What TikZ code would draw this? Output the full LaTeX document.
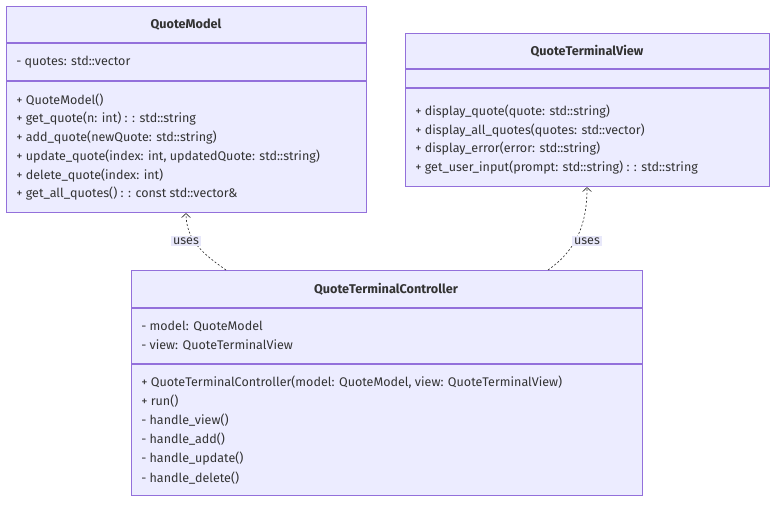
\documentclass[tikz,border=0pt]{standalone}
\usepackage{fontspec}
\setmainfont{Fira Sans}
\usetikzlibrary{arrows.meta}
\definecolor{boxfill}{HTML}{ECECFF}
\definecolor{boxline}{HTML}{9370DB}
\definecolor{ink}{HTML}{333333}
\definecolor{labelbg}{HTML}{E8E8FA}

\begin{document}
\begin{tikzpicture}[x=0.75pt, y=-0.75pt,
    every node/.style={text=ink, font=\fontsize{9.4}{11}\selectfont},
    classbox/.style={draw=boxline, fill=boxfill, line width=0.8pt, inner sep=0pt, anchor=north west},
    classname/.style={font=\fontsize{9.5}{11}\selectfont\bfseries},
    member/.style={anchor=west, inner sep=0pt},
    sep/.style={draw=boxline, line width=0.8pt},
    dep/.style={draw=ink, dash pattern=on 1.5pt off 1.5pt, line width=0.5pt, -{Straight Barb[length=3pt,width=6.5pt]}},
    tag/.style={fill=labelbg, inner sep=1.2pt}]

    \useasboundingbox (0,0) rectangle (784,507);

    % Boxes
    \node[classbox, minimum width=270pt, minimum height=154.5pt] (model) at (6,6) {};
    \node[classbox, minimum width=273pt, minimum height=114.75pt] (view) at (405,33) {};
    \node[classbox, minimum width=383.25pt, minimum height=168.75pt] (ctrl) at (131,270) {};

    % Compartment lines
    \draw[sep] (model.west |- 0,43) -- (model.east |- 0,43);
    \draw[sep] (model.west |- 0,81) -- (model.east |- 0,81);
    \draw[sep] (view.west |- 0,69) -- (view.east |- 0,69);
    \draw[sep] (view.west |- 0,88) -- (view.east |- 0,88);
    \draw[sep] (ctrl.west |- 0,308) -- (ctrl.east |- 0,308);
    \draw[sep] (ctrl.west |- 0,364) -- (ctrl.east |- 0,364);

    % Names
    \node[classname] (modelname) at (186,25) {QuoteModel};
    \node[classname] (viewname) at (587,51) {QuoteTerminalView};
    \node[classname] (ctrlname) at (386,289) {QuoteTerminalController};

    % QuoteModel members
    \node[member] (ma1) at (16,62) {- quotes: std::vector};
    \foreach \txt [count=\i from 0] in {%
        + QuoteModel(),
        + get\_quote(n: int) : : std::string,
        + add\_quote(newQuote: std::string),
        {+ update\_quote(index: int, updatedQuote: std::string)},
        + delete\_quote(index: int),
        + get\_all\_quotes() : : const std::vector\&}
        \node[member] (mm\i) at (16,100+18.8*\i) {\txt};

    % QuoteTerminalView members
    \foreach \txt [count=\i from 0] in {%
        + display\_quote(quote: std::string),
        + display\_all\_quotes(quotes: std::vector),
        + display\_error(error: std::string),
        + get\_user\_input(prompt: std::string) : : std::string}
        \node[member] (vm\i) at (415,111.5+18.6*\i) {\txt};

    % QuoteTerminalController members
    \node[member] (ca1) at (141,326.5) {- model: QuoteModel};
    \node[member] (ca2) at (141,345) {- view: QuoteTerminalView};
    \foreach \txt [count=\i from 0] in {%
        {+ QuoteTerminalController(model: QuoteModel, view: QuoteTerminalView)},
        + run(),
        - handle\_view(),
        - handle\_add(),
        - handle\_update(),
        - handle\_delete()}
        \node[member] (cm\i) at (141,382+19.2*\i) {\txt};

    % Dependencies
    \coordinate (mfoot) at (226,270);
    \coordinate (vfoot) at (548,270);
    \draw[dep] (mfoot) to[out=145, in=-90] (model.south -| 186,0);
    \draw[dep] (vfoot) to[out=35, in=-90] (view.south -| 587,0);
    \node[tag] (musesm) at (186,241) {uses};
    \node[tag] (vusesv) at (587,241) {uses};

\end{tikzpicture}
\end{document}
